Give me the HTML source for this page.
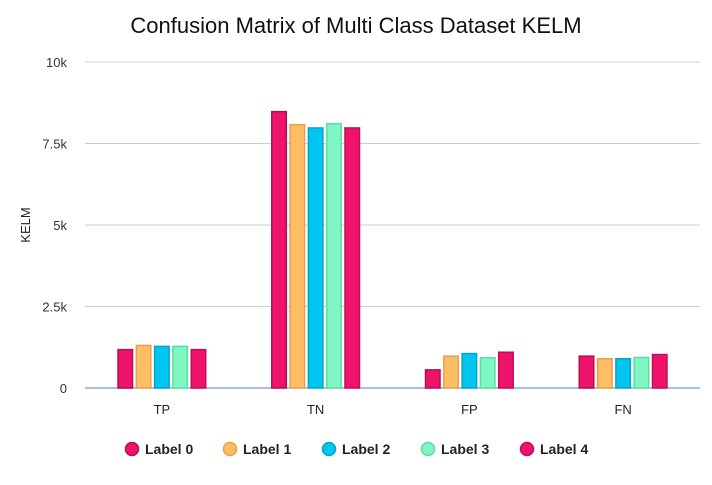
<!DOCTYPE html>
<html><head><meta charset="utf-8"><style>
body{margin:0;background:#fff;}
svg{display:block;font-family:"Liberation Sans",sans-serif;}
</style></head><body>
<svg id="chart" width="712" height="485">
<text x="356" y="33" text-anchor="middle" font-size="22" fill="#111">Confusion Matrix of Multi Class Dataset KELM</text>
<text x="30" y="225" text-anchor="middle" font-size="13" fill="#222" transform="rotate(-90 30 225)">KELM</text>
<g id="grid"></g><g id="bars"></g><g id="legend"></g>
</svg>
<script>
const categories=["TP","TN","FP","FN"];
const seriesNames=["Label 0","Label 1","Label 2","Label 3","Label 4"];
const label0=[1200,8500,580,1000];
const label1=[1330,8100,1000,920];
const label2=[1300,8000,1080,920];
const label3=[1300,8130,950,960];
const label4=[1200,8000,1120,1050];
const series=[label0,label1,label2,label3,label4];
const yTicks=[0,2500,5000,7500,10000];
const yTickLabels=["0","2.5k","5k","7.5k","10k"];
const fills=["#f0136b","#ffbd66","#00c6ef","#7ef7c3","#f0136b"];
const strokes=["#b0104e","#e8a04a","#0aa3c8","#5fd9a6","#c01058"];
const NS="http://www.w3.org/2000/svg";
const x0=85,x1=700,y0=388,yTop=62,yMax=10000;
const y=v=>y0-(v/yMax)*(y0-yTop);
const band=(x1-x0)/categories.length;
const xc=i=>x0+band*(i+0.5);
function mk(t,a,p){const e=document.createElementNS(NS,t);for(const k in a)e.setAttribute(k,a[k]);p.appendChild(e);return e;}
const grid=document.getElementById('grid');
yTicks.forEach((t,i)=>{
 if(i>0){const l=mk('line',{x1:x0,x2:x1,y1:y(t),y2:y(t),stroke:'#ccc','stroke-width':1},grid);
 
 }
 const tx=mk('text',{x:67,y:y(t)+5,'text-anchor':'end','font-size':13,fill:'#333'},grid);tx.textContent=yTickLabels[i];
 
 
});
const ax=mk('line',{x1:x0,x2:x1,y1:y0,y2:y0,stroke:'#6f9be0','stroke-width':1.2},grid);


const bars=document.getElementById('bars');
const bw=16,step=18.3;
categories.forEach((c,i)=>{
 series.forEach((s,j)=>{
  const bx=xc(i)+(j-2)*step-bw/2;
  const r=mk('rect',{x:bx+0.75,y:y(s[i])+0.75,width:bw-1.5,height:y0-y(s[i])-0.75,fill:fills[j],stroke:strokes[j],'stroke-width':1.5},bars);
  
  
 });
 const t=mk('text',{x:xc(i),y:414,'text-anchor':'middle','font-size':13,fill:'#222'},bars);t.textContent=c;
 
 
});
const lg=document.getElementById('legend');
const lx=[132,230,329,428,527];
seriesNames.forEach((n,j)=>{
 const g=mk('g',{},lg);
 
 
 mk('circle',{cx:lx[j],cy:449,r:6.5,fill:fills[j],stroke:strokes[j],'stroke-width':1.5},g);
 const t=mk('text',{x:lx[j]+13,y:454,'font-size':14,'font-weight':'bold',fill:'#222'},g);t.textContent=n;
});
</script>
</body></html>
